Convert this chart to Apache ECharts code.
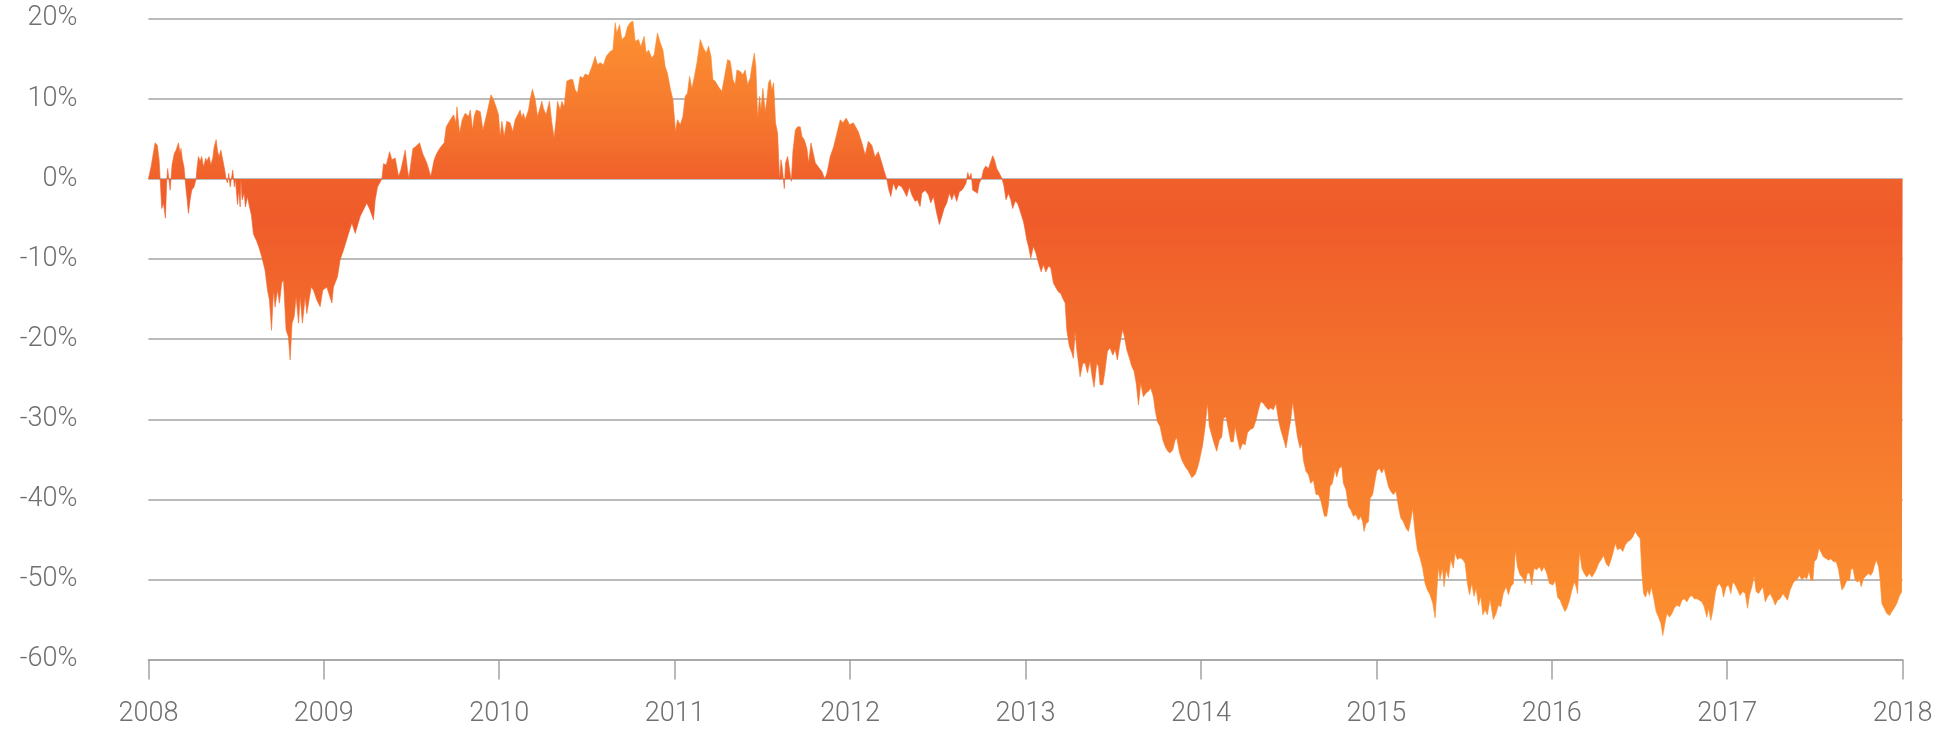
<!DOCTYPE html>
<html>
<head>
<meta charset="utf-8">
<script src="https://cdn.jsdelivr.net/npm/echarts@6/dist/echarts.min.js"></script>
<style>
html,body{margin:0;padding:0;background:#fff;}
#chart{width:1955px;height:731px;}
</style>
</head>
<body>
<div id="chart"></div>
<script>
// Relative performance (%), [decimal year, value]
const readings = [
[2008.000,0],[2008.015,1.5],[2008.038,4.5],[2008.051,4.2],[2008.061,2.4],[2008.067,0],[2008.076,-3.7],[2008.086,-3.0],[2008.097,-4.9],[2008.105,0],
[2008.110,1.3],[2008.124,-1.4],[2008.129,0],[2008.135,1.8],[2008.148,3.2],[2008.158,3.6],[2008.171,4.5],[2008.181,3.2],[2008.186,3.8],[2008.194,2.4],
[2008.203,1.5],[2008.209,0],[2008.215,-1.4],[2008.221,-2.6],[2008.228,-4.3],[2008.238,-2.6],[2008.247,-1.4],[2008.260,-1.0],[2008.272,0],[2008.276,1.1],
[2008.285,2.8],[2008.295,2.2],[2008.304,2.8],[2008.314,1.5],[2008.327,2.6],[2008.333,2.2],[2008.346,2.8],[2008.356,1.75],[2008.367,2.6],[2008.375,4.0],
[2008.386,4.9],[2008.395,3.4],[2008.403,2.8],[2008.413,3.6],[2008.424,2.4],[2008.435,1.1],[2008.443,0],[2008.451,-0.5],[2008.458,0.7],[2008.466,-1.0],
[2008.481,1.1],[2008.490,-1.0],[2008.496,0],[2008.508,-3.2],[2008.515,-1.4],[2008.523,-3.5],[2008.527,0],[2008.534,-2.6],[2008.546,-1.8],[2008.553,-3.5],
[2008.565,-2.2],[2008.574,-3.25],[2008.587,-4.5],[2008.599,-6.9],[2008.618,-7.8],[2008.631,-8.6],[2008.646,-9.7],[2008.665,-11.4],[2008.679,-13.9],[2008.690,-15.1],
[2008.702,-18.9],[2008.713,-13.9],[2008.722,-16.0],[2008.736,-13.9],[2008.747,-15.5],[2008.760,-13.0],[2008.770,-12.6],[2008.785,-18.9],[2008.798,-19.7],[2008.808,-22.6],
[2008.819,-18.0],[2008.831,-17.2],[2008.842,-14.7],[2008.856,-18.0],[2008.865,-14.7],[2008.878,-18.0],[2008.894,-14.7],[2008.903,-16.8],[2008.928,-13.5],[2008.941,-13.9],
[2008.960,-15.1],[2008.979,-15.95],[2008.994,-13.9],[2009.017,-13.5],[2009.046,-15.5],[2009.055,-13.5],[2009.078,-12.2],[2009.093,-10.1],[2009.112,-8.9],[2009.141,-6.8],
[2009.160,-5.5],[2009.179,-6.8],[2009.207,-4.7],[2009.245,-3.0],[2009.264,-3.9],[2009.283,-5.1],[2009.293,-2.6],[2009.306,-1.0],[2009.331,0],[2009.340,1.9],
[2009.356,1.75],[2009.375,3.4],[2009.388,2.4],[2009.407,2.6],[2009.426,0.3],[2009.439,1.1],[2009.464,3.6],[2009.477,1.1],[2009.485,0.1],[2009.508,3.8],
[2009.521,4.0],[2009.546,4.5],[2009.563,3.2],[2009.587,2.0],[2009.610,0.3],[2009.629,2.4],[2009.644,3.2],[2009.663,3.9],[2009.686,4.5],[2009.698,6.5],
[2009.721,7.4],[2009.740,8.0],[2009.753,7.0],[2009.759,9.0],[2009.774,5.7],[2009.789,7.4],[2009.806,8.2],[2009.825,7.8],[2009.835,8.6],[2009.848,6.1],
[2009.857,7.8],[2009.869,8.6],[2009.892,8.4],[2009.907,6.1],[2009.930,8.2],[2009.953,10.5],[2009.967,9.9],[2009.982,9.0],[2009.996,8.0],[2010.005,5.3],
[2010.015,7.2],[2010.028,5.3],[2010.043,7.2],[2010.062,7.0],[2010.077,5.9],[2010.091,7.4],[2010.110,8.2],[2010.119,8.6],[2010.129,7.6],[2010.138,8.2],
[2010.148,7.4],[2010.167,8.6],[2010.176,9.9],[2010.189,11.2],[2010.205,9.9],[2010.218,7.8],[2010.229,8.6],[2010.243,9.7],[2010.252,8.8],[2010.267,8.0],
[2010.286,9.7],[2010.300,7.0],[2010.313,5.1],[2010.323,7.2],[2010.332,9.7],[2010.347,8.6],[2010.357,9.7],[2010.370,9.0],[2010.385,12.2],[2010.404,12.4],
[2010.419,12.4],[2010.433,11.1],[2010.446,10.7],[2010.461,12.8],[2010.477,12.6],[2010.490,13.1],[2010.509,12.9],[2010.528,14.0],[2010.547,15.3],[2010.560,14.25],
[2010.575,14.5],[2010.594,14.25],[2010.610,15.3],[2010.632,15.9],[2010.648,16.1],[2010.661,19.5],[2010.670,18.2],[2010.686,19.25],[2010.699,17.4],[2010.718,17.8],
[2010.731,19.0],[2010.746,19.5],[2010.762,19.7],[2010.775,17.2],[2010.794,17.4],[2010.807,16.5],[2010.826,17.8],[2010.838,15.7],[2010.851,16.1],[2010.870,15.1],
[2010.883,15.5],[2010.902,18.2],[2010.918,17.0],[2010.933,16.1],[2010.946,14.0],[2010.959,13.2],[2010.975,11.3],[2010.990,9.9],[2011.005,5.9],[2011.016,7.4],
[2011.032,6.75],[2011.047,7.8],[2011.060,10.3],[2011.073,10.7],[2011.085,12.8],[2011.098,11.3],[2011.111,12.6],[2011.127,14.5],[2011.146,17.4],[2011.165,16.3],
[2011.180,15.7],[2011.193,16.6],[2011.207,15.3],[2011.218,12.4],[2011.231,12.2],[2011.250,11.5],[2011.269,10.9],[2011.288,13.2],[2011.302,14.9],[2011.317,14.7],
[2011.332,12.4],[2011.345,11.75],[2011.355,13.6],[2011.374,13.4],[2011.389,13.0],[2011.402,13.6],[2011.416,11.75],[2011.431,12.6],[2011.440,14.0],[2011.454,15.7],
[2011.463,14.0],[2011.473,7.6],[2011.484,10.3],[2011.492,8.6],[2011.503,11.3],[2011.516,8.4],[2011.526,9.9],[2011.535,12.0],[2011.545,12.4],[2011.554,11.1],
[2011.564,12.0],[2011.575,7.0],[2011.587,5.7],[2011.598,-0.1],[2011.606,2.4],[2011.613,1.5],[2011.625,-1.2],[2011.632,2.0],[2011.644,2.8],[2011.655,2.8],
[2011.665,-0.3],[2011.674,3.4],[2011.688,6.1],[2011.701,6.5],[2011.716,6.5],[2011.726,5.3],[2011.739,4.9],[2011.754,3.8],[2011.764,2.0],[2011.777,4.5],
[2011.788,3.4],[2011.802,2.0],[2011.811,2.2],[2011.826,1.3],[2011.840,0.9],[2011.855,0],[2011.868,0.7],[2011.887,2.8],[2011.906,4.0],[2011.925,5.7],
[2011.944,7.4],[2011.959,7.0],[2011.978,7.6],[2011.997,6.75],[2012.019,7.0],[2012.047,5.9],[2012.067,4.5],[2012.086,3.0],[2012.104,4.7],[2012.124,4.2],
[2012.142,2.75],[2012.161,3.4],[2012.181,2.0],[2012.194,1.0],[2012.209,0],[2012.219,-1.2],[2012.232,-2.2],[2012.247,-0.5],[2012.262,-1.4],[2012.276,-0.75],
[2012.295,-1.0],[2012.314,-1.8],[2012.323,-2.2],[2012.338,-1.0],[2012.352,-2.0],[2012.371,-2.8],[2012.384,-2.6],[2012.399,-3.45],[2012.409,-1.8],[2012.428,-1.4],
[2012.447,-2.0],[2012.460,-3.0],[2012.475,-2.2],[2012.494,-4.3],[2012.509,-5.7],[2012.523,-4.7],[2012.536,-3.7],[2012.551,-3.0],[2012.566,-1.8],[2012.580,-2.6],
[2012.593,-1.8],[2012.608,-2.8],[2012.623,-1.6],[2012.637,-1.4],[2012.650,-1.0],[2012.661,-0.5],[2012.671,0.8],[2012.680,0.1],[2012.690,0.7],[2012.699,-1.4],
[2012.713,-1.6],[2012.726,-1.8],[2012.737,-0.5],[2012.749,0],[2012.760,1.1],[2012.773,1.6],[2012.789,1.3],[2012.802,2.2],[2012.813,2.9],[2012.823,2.4],
[2012.836,1.3],[2012.851,0.7],[2012.867,0],[2012.878,-1.0],[2012.889,-2.6],[2012.903,-1.8],[2012.916,-2.6],[2012.927,-3.7],[2012.941,-2.8],[2012.954,-3.0],
[2012.965,-3.7],[2012.979,-4.7],[2012.988,-5.3],[2012.998,-6.4],[2013.007,-7.6],[2013.017,-8.4],[2013.030,-9.9],[2013.045,-8.4],[2013.060,-9.3],[2013.074,-10.5],
[2013.089,-11.6],[2013.102,-10.7],[2013.116,-11.6],[2013.131,-10.9],[2013.144,-11.1],[2013.159,-13.0],[2013.174,-13.6],[2013.188,-14.1],[2013.201,-14.3],[2013.212,-14.9],
[2013.226,-15.5],[2013.235,-18.8],[2013.250,-20.9],[2013.264,-21.7],[2013.273,-22.4],[2013.283,-19.0],[2013.292,-21.3],[2013.302,-23.0],[2013.311,-24.7],[2013.327,-23.0],
[2013.340,-23.0],[2013.353,-24.2],[2013.368,-22.8],[2013.380,-24.7],[2013.391,-26.0],[2013.406,-23.0],[2013.416,-23.4],[2013.425,-25.7],[2013.441,-25.7],[2013.454,-23.8],
[2013.467,-21.5],[2013.482,-21.1],[2013.498,-22.0],[2013.511,-21.3],[2013.524,-22.6],[2013.539,-20.5],[2013.553,-18.8],[2013.564,-19.7],[2013.577,-21.3],[2013.593,-22.4],
[2013.606,-23.4],[2013.619,-24.0],[2013.631,-25.5],[2013.644,-28.2],[2013.657,-25.5],[2013.672,-27.2],[2013.688,-26.7],[2013.701,-26.5],[2013.714,-26.1],[2013.729,-27.2],
[2013.739,-28.8],[2013.752,-30.3],[2013.767,-30.9],[2013.783,-32.6],[2013.796,-33.4],[2013.811,-34.0],[2013.824,-34.2],[2013.840,-33.8],[2013.853,-32.6],[2013.862,-32.3],
[2013.878,-34.2],[2013.891,-35.1],[2013.910,-35.9],[2013.929,-36.5],[2013.948,-37.3],[2013.967,-36.9],[2013.980,-36.1],[2013.992,-35.1],[2013.995,-35.1],[2014.010,-33.2],
[2014.024,-30.9],[2014.037,-28.0],[2014.048,-30.9],[2014.062,-32.0],[2014.075,-33.0],[2014.090,-34.0],[2014.105,-32.6],[2014.119,-32.2],[2014.128,-29.9],[2014.143,-29.7],
[2014.157,-31.3],[2014.170,-32.8],[2014.185,-32.8],[2014.195,-30.9],[2014.208,-32.4],[2014.223,-33.8],[2014.238,-33.0],[2014.252,-33.2],[2014.265,-31.7],[2014.280,-31.3],
[2014.299,-31.1],[2014.314,-30.1],[2014.328,-28.8],[2014.341,-27.8],[2014.356,-28.0],[2014.371,-28.5],[2014.385,-28.8],[2014.398,-28.6],[2014.413,-28.8],[2014.428,-28.0],
[2014.442,-30.1],[2014.455,-31.3],[2014.470,-32.4],[2014.485,-33.6],[2014.499,-31.7],[2014.512,-30.1],[2014.523,-27.8],[2014.537,-30.1],[2014.550,-32.2],[2014.565,-33.6],
[2014.575,-33.0],[2014.584,-35.1],[2014.599,-36.5],[2014.613,-36.9],[2014.626,-38.0],[2014.641,-37.6],[2014.656,-39.4],[2014.670,-39.4],[2014.683,-40.1],[2014.694,-40.3],
[2014.704,-42.1],[2014.717,-42.1],[2014.727,-40.7],[2014.736,-38.4],[2014.749,-38.0],[2014.765,-36.3],[2014.774,-37.2],[2014.789,-36.1],[2014.803,-35.9],[2014.812,-38.0],
[2014.827,-38.8],[2014.841,-40.9],[2014.854,-41.3],[2014.869,-42.1],[2014.883,-41.9],[2014.898,-42.6],[2014.911,-42.1],[2014.922,-42.8],[2014.930,-44.0],[2014.941,-43.0],
[2014.955,-42.8],[2014.964,-39.9],[2014.979,-39.4],[2014.993,-37.6],[2015.002,-36.5],[2015.017,-36.1],[2015.031,-36.7],[2015.044,-36.1],[2015.055,-35.9],[2015.069,-38.4],
[2015.082,-39.0],[2015.097,-39.4],[2015.112,-39.0],[2015.126,-40.9],[2015.139,-42.3],[2015.154,-42.8],[2015.169,-43.6],[2015.183,-44.0],[2015.196,-42.6],[2015.207,-41.1],
[2015.221,-44.2],[2015.234,-46.3],[2015.249,-47.3],[2015.264,-48.6],[2015.278,-50.5],[2015.291,-51.3],[2015.306,-51.9],[2015.322,-53.0],[2015.335,-54.8],[2015.344,-51.7],
[2015.354,-48.4],[2015.363,-50.0],[2015.377,-48.6],[2015.386,-50.9],[2015.398,-48.8],[2015.411,-49.8],[2015.424,-47.5],[2015.439,-48.6],[2015.449,-46.7],[2015.462,-47.5],
[2015.477,-47.3],[2015.493,-47.5],[2015.506,-48.0],[2015.519,-50.5],[2015.531,-51.9],[2015.544,-50.5],[2015.557,-52.1],[2015.569,-51.1],[2015.582,-53.2],[2015.595,-52.1],
[2015.607,-54.4],[2015.620,-53.8],[2015.633,-54.4],[2015.648,-52.5],[2015.658,-52.5],[2015.667,-55.0],[2015.683,-54.2],[2015.696,-53.2],[2015.709,-53.4],[2015.724,-51.7],
[2015.740,-50.9],[2015.753,-51.9],[2015.766,-50.9],[2015.781,-50.5],[2015.793,-46.3],[2015.804,-48.4],[2015.819,-49.4],[2015.835,-49.8],[2015.848,-50.5],[2015.861,-49.2],
[2015.873,-49.2],[2015.886,-50.7],[2015.899,-48.6],[2015.914,-48.8],[2015.930,-48.4],[2015.943,-49.0],[2015.956,-48.4],[2015.971,-49.2],[2015.987,-50.5],[2016.006,-50.7],
[2016.020,-50.1],[2016.033,-52.2],[2016.048,-52.6],[2016.063,-53.4],[2016.075,-54.0],[2016.086,-53.6],[2016.101,-52.6],[2016.115,-51.3],[2016.128,-50.3],[2016.139,-50.9],
[2016.147,-51.75],[2016.158,-46.5],[2016.172,-48.6],[2016.185,-49.25],[2016.200,-49.7],[2016.215,-49.25],[2016.229,-49.7],[2016.242,-49.25],[2016.253,-48.8],[2016.267,-48.0],
[2016.280,-47.6],[2016.295,-47.0],[2016.310,-48.0],[2016.324,-48.4],[2016.337,-47.6],[2016.348,-46.75],[2016.362,-45.5],[2016.375,-46.3],[2016.390,-46.1],[2016.405,-46.5],
[2016.419,-45.7],[2016.432,-45.3],[2016.447,-45.1],[2016.462,-44.7],[2016.476,-44.0],[2016.489,-44.5],[2016.504,-44.9],[2016.514,-49.25],[2016.523,-51.75],[2016.535,-52.2],
[2016.546,-51.3],[2016.557,-52.0],[2016.567,-50.9],[2016.580,-52.2],[2016.595,-54.0],[2016.609,-54.7],[2016.622,-55.5],[2016.633,-57.0],[2016.645,-55.5],[2016.656,-54.25],
[2016.671,-54.7],[2016.685,-54.25],[2016.698,-53.6],[2016.713,-53.2],[2016.728,-53.4],[2016.742,-52.6],[2016.755,-52.4],[2016.770,-52.8],[2016.785,-52.2],[2016.799,-52.0],
[2016.812,-52.4],[2016.827,-52.4],[2016.842,-52.6],[2016.856,-52.8],[2016.869,-53.4],[2016.884,-54.7],[2016.894,-53.6],[2016.907,-55.1],[2016.918,-53.9],[2016.932,-51.75],
[2016.941,-50.9],[2016.956,-50.5],[2016.970,-51.1],[2016.979,-52.2],[2016.994,-50.9],[2017.008,-50.7],[2017.021,-51.75],[2017.032,-50.3],[2017.046,-50.7],[2017.059,-51.3],
[2017.074,-52.0],[2017.089,-51.5],[2017.103,-51.75],[2017.116,-53.6],[2017.127,-52.0],[2017.141,-50.9],[2017.154,-49.5],[2017.165,-51.5],[2017.179,-51.75],[2017.192,-51.3],
[2017.203,-50.9],[2017.217,-52.8],[2017.230,-52.2],[2017.245,-51.75],[2017.260,-52.4],[2017.274,-53.2],[2017.287,-52.6],[2017.302,-52.4],[2017.318,-51.75],[2017.331,-52.2],
[2017.344,-52.6],[2017.359,-51.3],[2017.375,-50.5],[2017.388,-50.1],[2017.401,-49.9],[2017.413,-49.5],[2017.426,-50.1],[2017.439,-49.7],[2017.454,-49.9],[2017.466,-49.0],
[2017.477,-50.1],[2017.489,-50.1],[2017.496,-47.8],[2017.511,-47.4],[2017.523,-46.1],[2017.534,-46.3],[2017.549,-47.2],[2017.565,-47.4],[2017.578,-47.6],[2017.591,-47.4],
[2017.606,-47.8],[2017.622,-47.8],[2017.635,-48.8],[2017.644,-50.1],[2017.654,-51.3],[2017.667,-50.9],[2017.682,-50.1],[2017.698,-50.1],[2017.705,-48.8],[2017.717,-48.6],
[2017.730,-50.1],[2017.743,-50.3],[2017.755,-50.1],[2017.764,-50.9],[2017.777,-49.9],[2017.793,-49.5],[2017.806,-49.25],[2017.819,-49.5],[2017.831,-49.0],[2017.840,-48.2],
[2017.850,-47.6],[2017.863,-48.4],[2017.872,-50.1],[2017.882,-53.0],[2017.895,-53.6],[2017.910,-54.25],[2017.926,-54.5],[2017.939,-54.0],[2017.952,-53.6],[2017.967,-53.0],
[2017.983,-52.0],[2017.996,-51.5],[2018.000,-51.5]
];

const yearTicks = [2008, 2009, 2010, 2011, 2012, 2013, 2014, 2015, 2016, 2017, 2018];
const pctTicks = [-60, -50, -40, -30, -20, -10, 0, 10, 20];

const fontStack = "Roboto, 'Noto Sans', 'Liberation Sans', sans-serif";
const chart = echarts.init(document.getElementById('chart'), null, {renderer: 'canvas'});
chart.setOption({
  animation: false,
  backgroundColor: '#ffffff',
  grid: {left: 148.4, right: 52.4, top: 18.7, bottom: 71.4, containLabel: false},
  xAxis: {
    type: 'value',
    min: yearTicks[0],
    max: yearTicks[yearTicks.length - 1],
    interval: 1,
    axisLine: {show: true, onZero: false, lineStyle: {color: '#a3a3a3', width: 1.5}},
    axisTick: {show: true, length: 20, lineStyle: {color: '#a3a3a3', width: 1.5}},
    splitLine: {show: false},
    axisLabel: {
      margin: 40,
      color: '#707070',
      fontFamily: fontStack,
      fontWeight: 300,
      fontSize: 27,
      lineHeight: 30,
      formatter: v => String(Math.round(v))
    }
  },
  yAxis: {
    type: 'value',
    min: pctTicks[0],
    max: pctTicks[pctTicks.length - 1],
    interval: 10,
    axisLine: {show: false},
    axisTick: {show: false},
    splitLine: {show: true, lineStyle: {color: '#a3a3a3', width: 1.5}},
    axisLabel: {
      margin: 71,
      color: '#707070',
      fontFamily: fontStack,
      fontWeight: 300,
      fontSize: 27,
      formatter: v => v + '%'
    }
  },
  visualMap: {
    show: false,
    type: 'continuous',
    seriesIndex: 0,
    dimension: 1,
    min: -60,
    max: 20,
    inRange: {
      color: ['#fd9131', '#fc8d30', '#fb8a2f', '#f9852f', '#f8812e', '#f77c2e', '#f5772d', '#f4722d',
              '#f36d2c', '#f2682c', '#f1622b', '#ef5b2a', '#f0602b', '#f4702d', '#f77d2e', '#fa8830', '#fc9031']
    }
  },
  series: [{
    type: 'line',
    data: readings,
    showSymbol: false,
    symbol: 'none',
    lineStyle: {width: 0.6},
    areaStyle: {opacity: 1},
    z: 3
  }]
});
</script>
</body>
</html>
